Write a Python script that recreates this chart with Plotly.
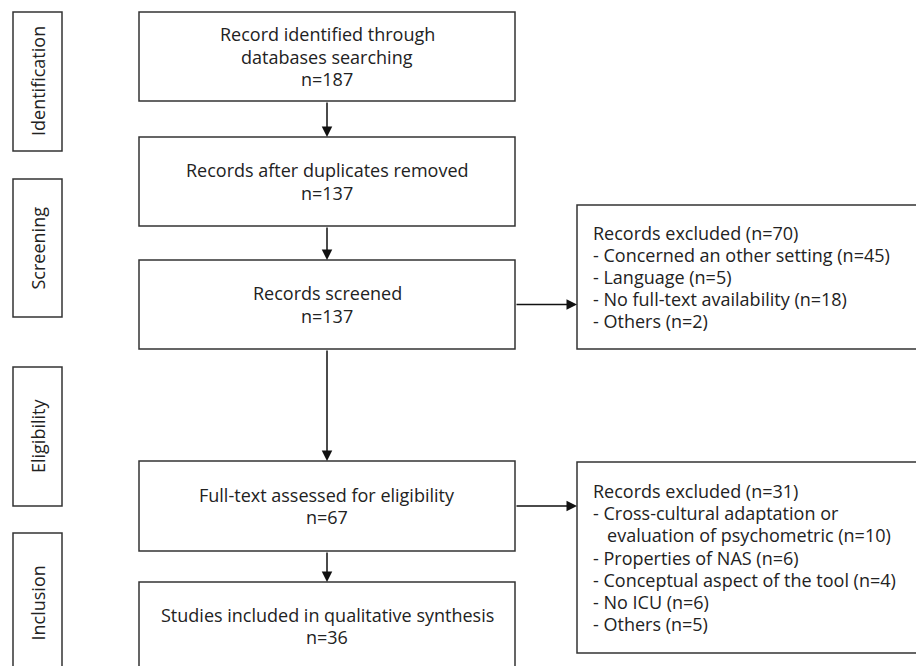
import plotly.graph_objects as go

W, H = 916, 666

# ---- data (texts) ----
stage_labels = ["Identification", "Screening", "Eligibility", "Inclusion"]
main_texts = [
    ["Record identified through", "databases searching", "n=187"],
    ["Records after duplicates removed", "n=137"],
    ["Records screened", "n=137"],
    ["Full-text assessed for eligibility", "n=67"],
    ["Studies included in qualitative synthesis", "n=36"],
]
excl_texts = [
    ["Records excluded (n=70)",
     "- Concerned an other setting (n=45)",
     "- Language (n=5)",
     "- No full-text availability (n=18)",
     "- Others (n=2)"],
    ["Records excluded (n=31)",
     "- Cross-cultural adaptation or",
     "\u00a0\u00a0\u00a0evaluation of psychometric (n=10)",
     "- Properties of NAS (n=6)",
     "- Conceptual aspect of the tool (n=4)",
     "- No ICU (n=6)",
     "- Others (n=5)"],
]

# ---- layout geometry ----
stage_x = (13, 62)
stage_y = [(12, 151), (179, 317), (367, 506), (533, 673)]
main_x = (139, 515)
main_y = [(12, 101), (137, 226), (260, 349), (461, 551), (582, 670)]
excl_x = (577, 920)
excl_y = [(205, 349), (462, 653)]
excl_from = [2, 3]  # main box index feeding each exclusion box

LINE_COLOR = "#333333"
TEXT_COLOR = "#222222"
FONT = "Open Sans"
FS = 18
MAIN_LS = 22.5
EXCL_LS = 22.2

fig = go.Figure()
shapes = []
annotations = []

def rect(x0, x1, y0, y1):
    shapes.append(dict(type="rect", xref="x", yref="y", x0=x0, x1=x1, y0=y0, y1=y1,
                       line=dict(color=LINE_COLOR, width=1.5), fillcolor="rgba(0,0,0,0)"))

# stage boxes
for lab, (y0, y1) in zip(stage_labels, stage_y):
    rect(stage_x[0], stage_x[1], y0, y1)
    annotations.append(dict(x=(stage_x[0] + stage_x[1]) / 2, y=(y0 + y1) / 2, xref="x", yref="y",
                            text=lab, showarrow=False, textangle=-90,
                            font=dict(family=FONT, size=FS, color=TEXT_COLOR)))

# main boxes
cx = (main_x[0] + main_x[1]) / 2
for lines, (y0, y1) in zip(main_texts, main_y):
    rect(main_x[0], main_x[1], y0, y1)
    cy = (y0 + y1) / 2
    n = len(lines)
    for i, t in enumerate(lines):
        yy = cy + (i - (n - 1) / 2) * MAIN_LS
        annotations.append(dict(x=cx, y=yy, xref="x", yref="y", text=t, showarrow=False,
                                xanchor="center", yanchor="middle",
                                font=dict(family=FONT, size=FS, color=TEXT_COLOR)))

# exclusion boxes
for lines, (y0, y1) in zip(excl_texts, excl_y):
    rect(excl_x[0], excl_x[1], y0, y1)
    cy = (y0 + y1) / 2
    n = len(lines)
    for i, t in enumerate(lines):
        yy = cy + (i - (n - 1) / 2) * EXCL_LS
        annotations.append(dict(x=excl_x[0] + 14, y=yy, xref="x", yref="y", text=t, showarrow=False,
                                xanchor="left", yanchor="middle",
                                font=dict(family=FONT, size=FS, color=TEXT_COLOR)))

def arrow(x0, y0, x1, y1):
    annotations.append(dict(x=x1, y=y1, ax=x0, ay=y0, xref="x", yref="y", axref="x", ayref="y",
                            text="", showarrow=True, arrowhead=2, arrowsize=1.4, arrowwidth=1.5,
                            arrowcolor="#111111", standoff=0, startstandoff=0))

# vertical arrows between main boxes
for i in range(len(main_y) - 1):
    arrow(cx, main_y[i][1], cx, main_y[i + 1][0])

# horizontal arrows to exclusion boxes
for k, mi in enumerate(excl_from):
    yy = (main_y[mi][0] + main_y[mi][1]) / 2
    arrow(main_x[1], yy, excl_x[0], yy)

fig.update_layout(
    width=W, height=H,
    margin=dict(l=0, r=0, t=0, b=0),
    paper_bgcolor="white", plot_bgcolor="white",
    xaxis=dict(range=[0, W], visible=False, fixedrange=True),
    yaxis=dict(range=[H, 0], visible=False, fixedrange=True),
    shapes=shapes, annotations=annotations,
    showlegend=False,
)

fig.write_html("out.html",
               config={"displayModeBar": False},
               post_script="document.body.style.margin='0';document.body.style.overflow='hidden';")
